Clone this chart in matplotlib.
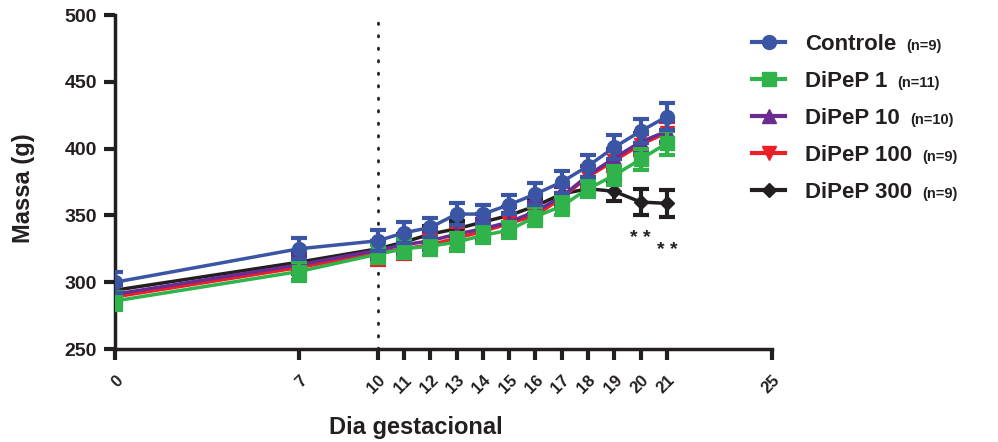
import numpy as np
import matplotlib
matplotlib.use('Agg')
import matplotlib.pyplot as plt
from matplotlib.lines import Line2D

plt.rcParams['font.family'] = ['Liberation Sans', 'DejaVu Sans']
plt.rcParams['font.weight'] = 'bold'

# Dia gestacional
days = [0, 7, 10, 11, 12, 13, 14, 15, 16, 17, 18, 19, 20, 21]

# Massa media (g) e erro padrao por grupo
controle = [300, 325, 331, 337, 341, 351, 351, 358, 366, 375, 387, 401, 413, 424]
controle_err = [8, 8, 8, 8, 7, 8, 7, 7, 8, 8, 8, 9, 9, 10]
dipep1 = [286, 308, 321, 325, 327, 330, 335, 339, 349, 357, 370, 380, 392, 404]
dipep1_err = [7, 7, 7, 7, 7, 7, 6, 6, 7, 7, 6, 7, 8, 9]
dipep10 = [291, 313, 324, 328, 331, 336, 340, 345, 353, 364, 380, 393, 405, 413]
dipep10_err = [7, 7, 7, 7, 7, 7, 7, 7, 7, 7, 7, 7, 7, 8]
dipep100 = [289, 311, 322, 325, 328, 333, 338, 344, 350, 363, 379, 391, 403, 412]
dipep100_err = [9, 9, 9, 8, 8, 8, 8, 8, 8, 8, 8, 8, 8, 8]
dipep300 = [294, 315, 325, 330, 336, 340, 345, 350, 357, 366, 370, 368, 360, 359]
dipep300_err = [6, 6, 6, 6, 6, 6, 6, 6, 6, 6, 5, 7, 10, 10]

groups = ['Controle', 'DiPeP 1', 'DiPeP 10', 'DiPeP 100', 'DiPeP 300']
n_labels = ['(n=9)', '(n=11)', '(n=10)', '(n=9)', '(n=9)']
xticks = [0, 7, 10, 11, 12, 13, 14, 15, 16, 17, 18, 19, 20, 21, 25]

series = [controle, dipep1, dipep10, dipep100, dipep300]
errors = [controle_err, dipep1_err, dipep10_err, dipep100_err, dipep300_err]
colors = ['#3a55a4', '#2fb34a', '#6b2c91', '#ec1f26', '#231f20']
markers = ['o', 's', '^', 'v', 'D']
msizes = [10, 10, 10, 10, 7]
zorders = [7, 6, 5, 4, 3]

fig = plt.figure(figsize=(9.98, 4.42), dpi=100)
ax = fig.add_axes([115 / 998, 1 - 349 / 442, 657 / 998, 334 / 442])

ax.axvline(10, color='#231f20', lw=2, linestyle=(0, (0.5, 4)),
           dash_capstyle='round', zorder=1)

handles = []
for y, e, c, m, ms, z in zip(series, errors, colors, markers, msizes, zorders):
    ax.errorbar(days, y, yerr=e, color=c, marker=m, markersize=ms,
                lw=2.5, elinewidth=3, capsize=6, capthick=3, zorder=z)
    handles.append(Line2D([], [], color=c, marker=m, markersize=ms, lw=3))

ax.text(20, 333, '* *', ha='center', va='center', fontsize=14, color='#231f20')
ax.text(21, 324, '* *', ha='center', va='center', fontsize=14, color='#231f20')

ax.set_xlim(0, 25)
ax.set_ylim(250, 500)
ax.set_xticks(xticks)
ax.set_xticklabels([str(t) for t in xticks], rotation=45, ha='right',
                   va='top', rotation_mode='anchor', fontsize=12)
ax.set_yticks(np.arange(250, 501, 50))
ax.tick_params(axis='y', labelsize=14, length=8, width=3, pad=5, colors='#231f20')
ax.tick_params(axis='x', length=8, width=3, pad=9, colors='#231f20')
for s in ['top', 'right']:
    ax.spines[s].set_visible(False)
for s in ['left', 'bottom']:
    ax.spines[s].set_linewidth(2.5)
    ax.spines[s].set_color('#231f20')

ax.set_xlabel('Dia gestacional', fontsize=17, fontweight='bold', color='#231f20')
ax.set_ylabel('Massa (g)', fontsize=17, fontweight='bold', color='#231f20')
ax.xaxis.set_label_coords(0.458, -0.2)
ax.yaxis.set_label_coords(-0.122, 0.48)

leg = ax.legend(handles=handles, labels=groups, loc='upper left',
                bbox_to_anchor=(743 / 998, 1 - 25 / 442), bbox_transform=fig.transFigure,
                frameon=False, fontsize=16, handlelength=1.5, labelspacing=0.72,
                handletextpad=0.9, borderaxespad=0)
for t in leg.get_texts():
    t.set_color('#231f20')

fig.canvas.draw()
inv = fig.transFigure.inverted()
for txt, nl in zip(leg.get_texts(), n_labels):
    bb = txt.get_window_extent()
    x0, y0 = inv.transform((bb.x1 + 10, (bb.y0 + bb.y1) / 2 - 2))
    fig.text(x0, y0, nl, fontsize=10.5, va='center', ha='left', color='#231f20')

fig.savefig('out.png', dpi=100)
